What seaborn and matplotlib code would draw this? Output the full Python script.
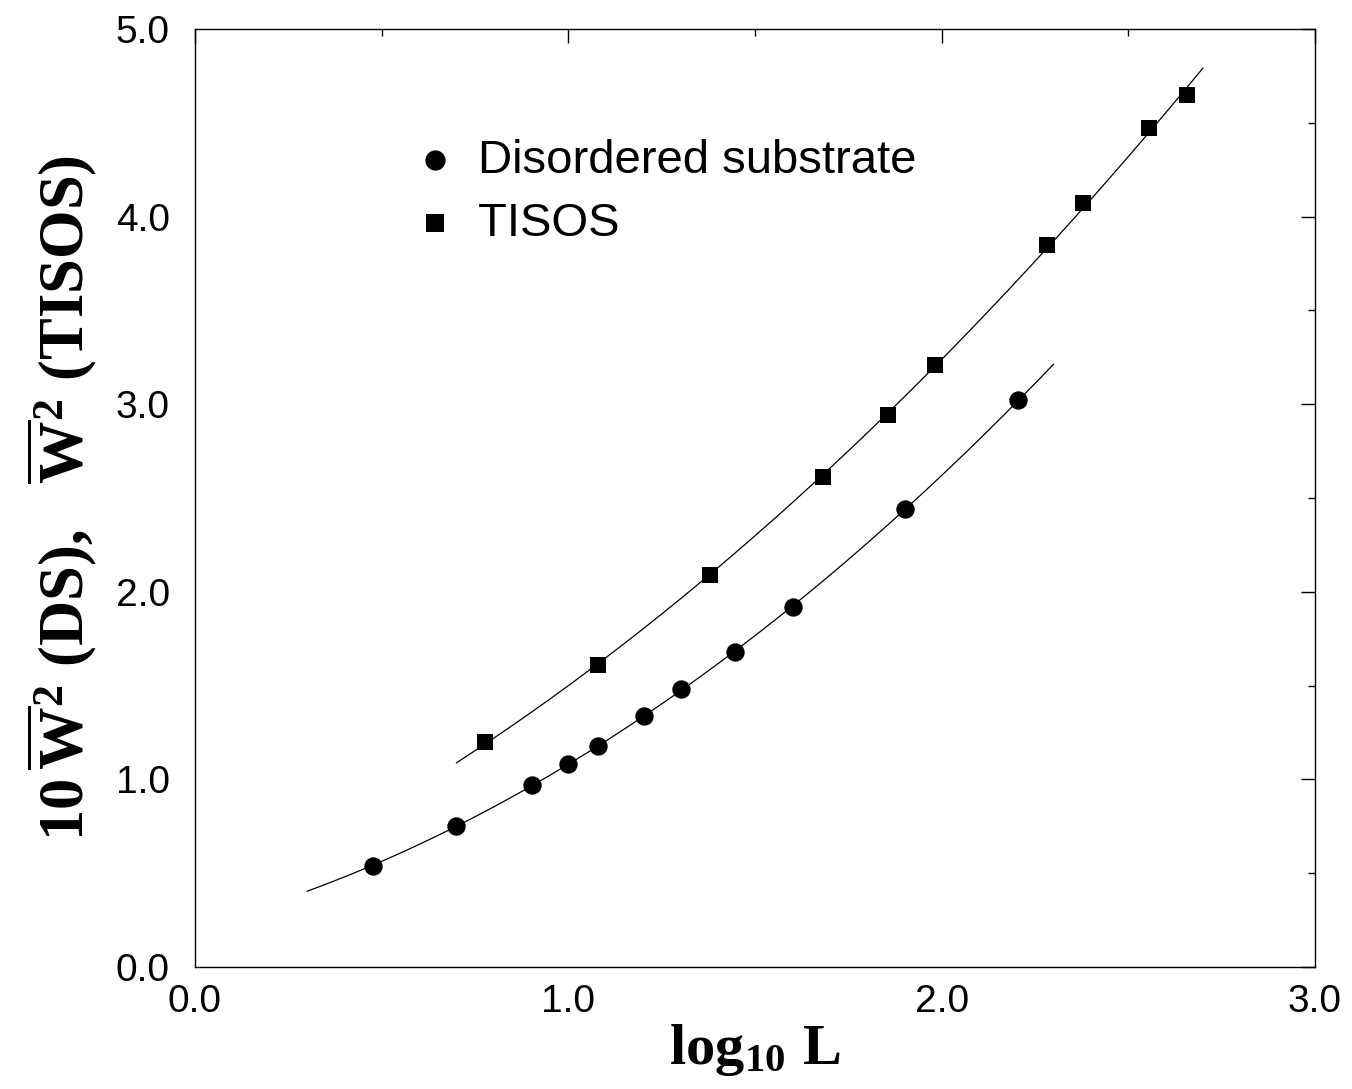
import numpy as np
import pandas as pd
import matplotlib
matplotlib.use('Agg')
import matplotlib.pyplot as plt
from matplotlib.ticker import MultipleLocator, FormatStrFormatter
import seaborn as sns

# data (x = log10 L)
ds_x = [0.477, 0.699, 0.903, 1.000, 1.079, 1.204, 1.301, 1.447, 1.602, 1.903, 2.204]
ds_y = [0.54, 0.75, 0.97, 1.08, 1.18, 1.34, 1.48, 1.68, 1.92, 2.44, 3.02]
tisos_x = [0.778, 1.079, 1.380, 1.681, 1.857, 1.982, 2.283, 2.380, 2.556, 2.658]
tisos_y = [1.20, 1.61, 2.09, 2.61, 2.94, 3.21, 3.85, 4.07, 4.47, 4.65]

ds_range = (0.30, 2.30)
tisos_range = (0.70, 2.70)

sns.set_theme(style='white')
plt.rcParams['font.family'] = ['Liberation Sans', 'DejaVu Sans']
plt.rcParams['text.color'] = 'black'
plt.rcParams['axes.labelcolor'] = 'black'
plt.rcParams['mathtext.fontset'] = 'custom'
plt.rcParams['mathtext.rm'] = 'Liberation Serif'
plt.rcParams['mathtext.it'] = 'Liberation Serif:bold'
plt.rcParams['mathtext.bf'] = 'Liberation Serif:bold'

fig = plt.figure(figsize=(13.52, 10.89), dpi=100)
ax = fig.add_axes([0.1442, 0.112, 0.8284, 0.8614])

# quadratic fits through the points
fits = []
for xs, ys, (a, b) in [(ds_x, ds_y, ds_range), (tisos_x, tisos_y, tisos_range)]:
    c = np.polyfit(xs, ys, 2)
    xx = np.linspace(a, b, 200)
    fits.append(pd.DataFrame({'x': xx, 'y': np.polyval(c, xx)}))

sns.lineplot(data=fits[0], x='x', y='y', color='black', lw=0.9, ax=ax)
sns.lineplot(data=fits[1], x='x', y='y', color='black', lw=0.9, ax=ax)

ds = pd.DataFrame({'x': ds_x, 'y': ds_y})
ts = pd.DataFrame({'x': tisos_x, 'y': tisos_y})
sns.scatterplot(data=ds, x='x', y='y', marker='o', s=175, color='black',
                edgecolor='black', linewidth=0, label='Disordered substrate', ax=ax, zorder=3)
sns.scatterplot(data=ts, x='x', y='y', marker='s', s=130, color='black',
                edgecolor='black', linewidth=0, label='TISOS', ax=ax, zorder=3)

ax.set_xlim(0, 3)
ax.set_ylim(0, 5)
ax.xaxis.set_major_locator(MultipleLocator(1.0))
ax.xaxis.set_minor_locator(MultipleLocator(0.5))
ax.yaxis.set_major_locator(MultipleLocator(1.0))
ax.yaxis.set_minor_locator(MultipleLocator(0.5))
ax.xaxis.set_major_formatter(FormatStrFormatter('%.1f'))
ax.yaxis.set_major_formatter(FormatStrFormatter('%.1f'))
ax.tick_params(which='both', direction='in', top=True, right=True, colors='black',
               width=1.0, labelsize=28)
ax.tick_params(which='major', length=10)
ax.tick_params(which='minor', length=5)
ax.tick_params(axis='y', pad=18)
ax.tick_params(axis='x', pad=12)
for sp in ax.spines.values():
    sp.set_color('black')
    sp.set_linewidth(1.0)

ax.set_xlabel(r'$\mathbf{log_{10}\ L}$', fontsize=42, labelpad=2)
ax.set_ylabel(r'$\mathbf{10\,\overline{W}^2\ (DS),\ \ \overline{W}^2\ (TISOS)}$',
              fontsize=45, labelpad=12)

ax.legend(loc='upper left', bbox_to_anchor=(0.2015, 0.883), frameon=False,
          fontsize=34, handlelength=0.6, handletextpad=0.62, labelspacing=0.4,
          markerscale=1.1, borderpad=0, borderaxespad=0)

fig.savefig('out.png', dpi=100)
